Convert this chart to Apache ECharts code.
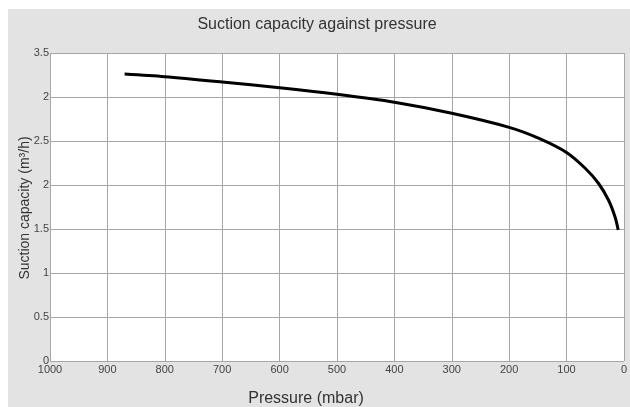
<!DOCTYPE html>
<html>
<head>
<meta charset="utf-8">
<script src="https://cdn.jsdelivr.net/npm/echarts@6/dist/echarts.min.js"></script>
<style>
  html, body { margin: 0; padding: 0; background: #ffffff; width: 630px; height: 407px; overflow: hidden; }
  #chart { position: absolute; left: 8px; top: 9px; width: 622px; height: 398px; }
</style>
</head>
<body>
<div id="chart"></div>
<script>
// ---- data ----
const pressure = [870, 800, 700, 600, 500, 400, 300, 200, 148, 100, 67.5, 44.5, 27, 15.6, 10];
const capacity = [3.26, 3.23, 3.17, 3.105, 3.03, 2.94, 2.815, 2.655, 2.53, 2.37, 2.19, 2.02, 1.83, 1.64, 1.49];
const yTickLabels = ['0', '0.5', '1', '1.5', '2', '2.5', '2', '3.5'];
const titleText = 'Suction capacity against pressure';
const xName = 'Pressure (mbar)';
const yName = 'Suction capacity (m\u00B3/h)';

const FONT = "'Liberation Sans', Arial, Helvetica, sans-serif";
const chart = echarts.init(document.getElementById('chart'), null, { renderer: 'canvas' });

const seriesData = pressure.map((p, i) => [p, capacity[i]]);

chart.setOption({
  backgroundColor: '#e3e3e3',
  animation: false,
  textStyle: { fontFamily: FONT },
  grid: { left: 42, right: 4, top: 44, bottom: 46, show: true, backgroundColor: '#ffffff', borderWidth: 0 },
  xAxis: {
    type: 'value',
    inverse: true,
    min: 0, max: 1000, interval: 100,
    axisLine: { show: false },
    axisTick: { show: false },
    axisLabel: { color: '#444', fontSize: 11, fontFamily: FONT, margin: 3, formatter: (v) => String(v) },
    splitLine: { show: true, lineStyle: { color: '#a6a6a6', width: 1 } }
  },
  yAxis: {
    type: 'value',
    min: 0, max: 3.5, interval: 0.5,
    axisLine: { show: false },
    axisTick: { show: false },
    axisLabel: {
      color: '#444', fontSize: 11, fontFamily: FONT, margin: 1,
      formatter: (v) => yTickLabels[Math.round(v / 0.5)]
    },
    splitLine: { show: true, lineStyle: { color: '#a6a6a6', width: 1 } }
  },
  graphic: [
    { type: 'text', x: 309, y: 16, style: { text: titleText, fill: '#333', font: '16px ' + FONT, align: 'center', verticalAlign: 'middle' } },
    { type: 'text', x: 298, y: 390, style: { text: xName, fill: '#333', font: '16px ' + FONT, align: 'center', verticalAlign: 'middle' } },
    { type: 'text', x: 17, y: 199, rotation: Math.PI / 2, style: { text: yName, fill: '#333', font: '14px ' + FONT, align: 'center', verticalAlign: 'middle' } }
  ],
  series: [{
    type: 'line',
    data: seriesData,
    smooth: 0.3,
    showSymbol: false,
    lineStyle: { color: '#000000', width: 3 },
    itemStyle: { color: '#000000' }
  }]
});
</script>
</body>
</html>
